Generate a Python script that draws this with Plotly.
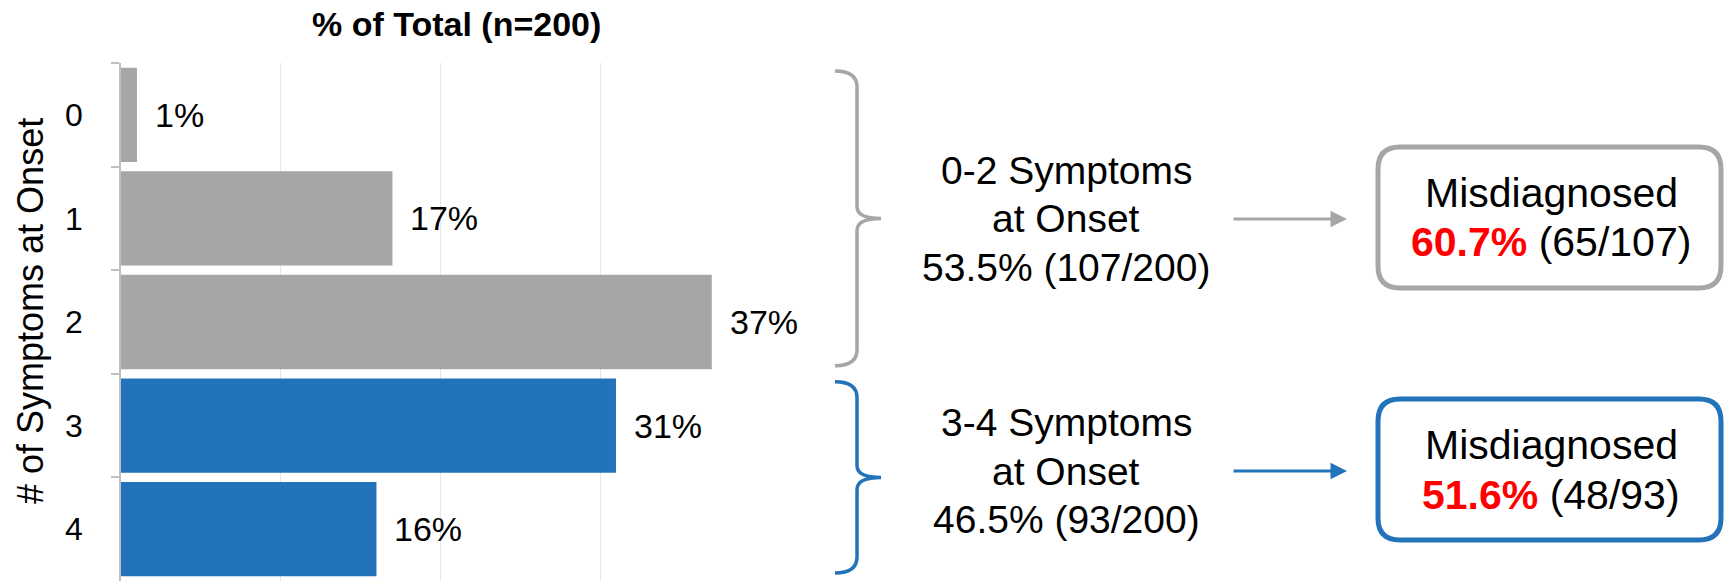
import plotly.graph_objects as go

# ---- data -------------------------------------------------------------
categories = ["0", "1", "2", "3", "4"]            # number of symptoms at onset
pct_of_total = [1, 17, 37, 31, 16]                # % of total patients
total_n = 200

group_labels = ["0-2", "3-4"]                     # symptom groups
group_members = [["0", "1", "2"], ["3", "4"]]
group_n = [107, 93]                               # patients per group
group_misdiagnosed = [65, 48]                     # misdiagnosed per group

# ---- styling ----------------------------------------------------------
W, H = 1725, 581
GRAY = "#A6A6A6"
BLUE = "#2273BA"
RED = "#FF0000"
group_colors = [GRAY, BLUE]
FONT = "Liberation Sans, Arial, sans-serif"

PLOT_L, PLOT_R, PLOT_T, PLOT_B = 121, 760, 63, 581


def px(x):
    return x / W


def py(y):
    return 1 - y / H


def path_from(points, close=False):
    s = " ".join(
        cmd + " " + " ".join(f"{px(x):.5f},{py(y):.5f}" for x, y in p)
        for cmd, p in points
    )
    return s + (" Z" if close else "")


def text_at(x, y, text, size, **kw):
    return dict(x=px(x), y=py(y), xref="paper", yref="paper", text=text,
                showarrow=False, xanchor="center", yanchor="middle",
                font=dict(family=FONT, size=size, color="#000000"), **kw)


bar_colors = []
for c in categories:
    for gi, members in enumerate(group_members):
        if c in members:
            bar_colors.append(group_colors[gi])

fig = go.Figure(
    go.Bar(
        x=pct_of_total,
        y=categories,
        orientation="h",
        marker=dict(color=bar_colors, line=dict(width=0)),
        hoverinfo="skip",
    )
)

annotations = []
shapes = []

# value labels next to each bar
for c, v in zip(categories, pct_of_total):
    annotations.append(dict(
        x=v, y=c, xref="x", yref="y", text=f"{v}%", showarrow=False,
        xanchor="left", yanchor="middle", xshift=16,
        font=dict(family=FONT, size=34, color="#000000"),
    ))

# chart title and y-axis title
annotations.append(text_at(457, 24, "<b>% of Total (n=200)</b>", 34))
annotations.append(text_at(30, 311, "# of Symptoms at Onset", 36, textangle=-90))

# group summaries: brace, description, arrow, misdiagnosis box
cat_h = (PLOT_B - PLOT_T) / len(categories)
row_centers = [219, 471]
for gi, members in enumerate(group_members):
    color = group_colors[gi]
    i0 = categories.index(members[0])
    i1 = categories.index(members[-1])
    top = PLOT_T + i0 * cat_h + 8
    bot = PLOT_T + (i1 + 1) * cat_h - 8
    mid = (top + bot) / 2
    xe, xs, xt = 835, 857, 881
    r = 16
    shapes.append(dict(
        type="path", xref="paper", yref="paper",
        path=path_from([
            ("M", [(xe, top)]),
            ("Q", [(xs, top), (xs, top + r)]),
            ("L", [(xs, mid - 12)]),
            ("Q", [(xs, mid), (xt, mid)]),
            ("Q", [(xs, mid), (xs, mid + 12)]),
            ("L", [(xs, bot - r)]),
            ("Q", [(xs, bot), (xe, bot)]),
        ]),
        line=dict(color=color, width=3.5),
    ))

    cy = row_centers[gi]
    share = 100 * group_n[gi] / total_n
    lines = [f"{group_labels[gi]} Symptoms", "at Onset",
             f"{share:.1f}% ({group_n[gi]}/{total_n})"]
    for li, t in enumerate(lines):
        annotations.append(text_at(1066, cy + (li - 1) * 48.5, t, 39))

    # arrow to the box
    annotations.append(dict(
        x=px(1347), y=py(cy), xref="paper", yref="paper",
        ax=-115, ay=0, text="", showarrow=True,
        arrowhead=2, arrowsize=1.1, arrowwidth=3, arrowcolor=color,
    ))

    # rounded box
    bx0, bx1 = 1378, 1721
    by0, by1 = cy - 72, cy + 69
    rr = 22
    shapes.append(dict(
        type="path", xref="paper", yref="paper",
        path=path_from([
            ("M", [(bx0 + rr, by0)]),
            ("L", [(bx1 - rr, by0)]),
            ("Q", [(bx1, by0), (bx1, by0 + rr)]),
            ("L", [(bx1, by1 - rr)]),
            ("Q", [(bx1, by1), (bx1 - rr, by1)]),
            ("L", [(bx0 + rr, by1)]),
            ("Q", [(bx0, by1), (bx0, by1 - rr)]),
            ("L", [(bx0, by0 + rr)]),
            ("Q", [(bx0, by0), (bx0 + rr, by0)]),
        ], close=True),
        line=dict(color=color, width=5),
    ))

    rate = 100 * group_misdiagnosed[gi] / group_n[gi]
    bc = (by0 + by1) / 2
    annotations.append(text_at(1551, bc - 25, "Misdiagnosed", 41))
    annotations.append(text_at(
        1551, bc + 25,
        f"<span style='color:{RED}'><b>{rate:.1f}%</b></span>"
        f" ({group_misdiagnosed[gi]}/{group_n[gi]})", 41))

fig.update_layout(
    width=W, height=H,
    margin=dict(l=0, r=0, t=0, b=0),
    paper_bgcolor="#FFFFFF", plot_bgcolor="#FFFFFF",
    showlegend=False,
    bargap=0.09,
    font=dict(family=FONT, color="#000000"),
    xaxis=dict(
        domain=[px(PLOT_L), px(PLOT_R)],
        range=[0, 40.02], tick0=0, dtick=10,
        showgrid=True, gridcolor="#E6E6E6", gridwidth=1,
        showticklabels=False, zeroline=False, showline=False, ticks="",
    ),
    yaxis=dict(
        domain=[py(PLOT_B), py(PLOT_T)],
        type="category", categoryorder="array", categoryarray=categories,
        autorange="reversed",
        showline=True, linecolor="#BFBFBF", linewidth=1.5,
        ticks="outside", tickson="boundaries", ticklen=8,
        tickcolor="#BFBFBF", tickwidth=1.5,
        ticklabelstandoff=30,
        tickfont=dict(family=FONT, size=32, color="#000000"),
        showgrid=False, zeroline=False,
    ),
    annotations=annotations,
    shapes=shapes,
)

fig.write_html("out.html")
